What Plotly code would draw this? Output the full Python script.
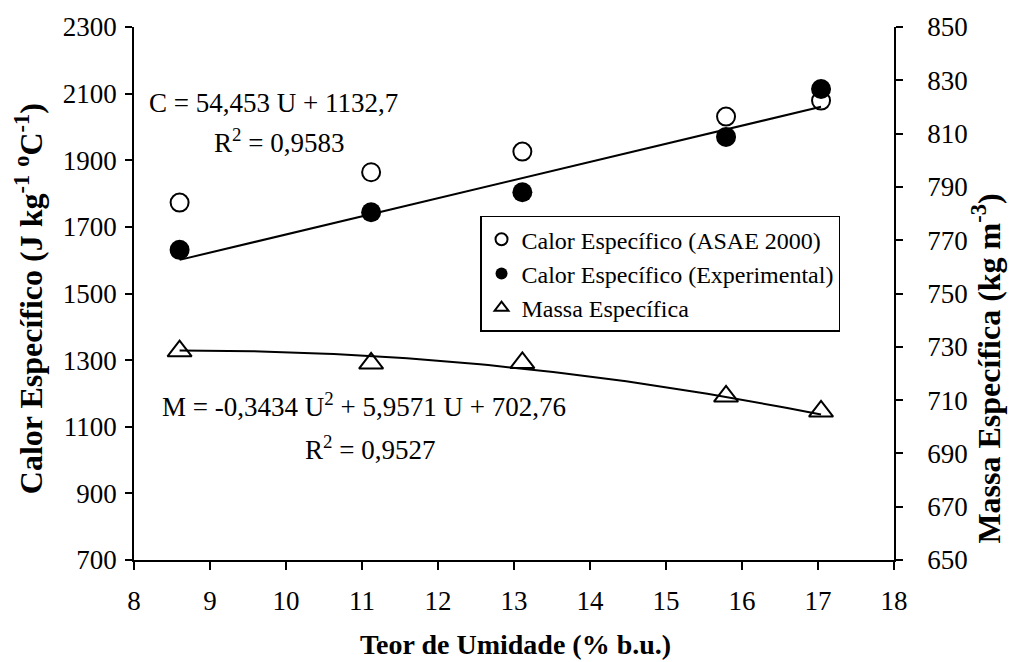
import numpy as np
import plotly.graph_objects as go

# Moisture content (% w.b.)
umidade = [8.6, 11.12, 13.11, 15.79, 17.04]
# Specific heat (J kg-1 C-1)
calor_asae = [1773, 1864, 1926, 2031, 2079]
calor_exp = [1631, 1744, 1804, 1970, 2114]
# Bulk density (kg m-3)
massa = [728.4, 723.8, 724.0, 711.4, 705.8]

# Fitted equations shown on the chart
lin_a, lin_b = 54.453, 1132.7
quad_a, quad_b, quad_c = -0.3434, 5.9571, 702.76

left_ticks = [700, 900, 1100, 1300, 1500, 1700, 1900, 2100, 2300]
grid_vals = [900, 1100, 1300, 1500, 1700, 1900, 2100]
right_ticks = [650, 670, 690, 710, 730, 750, 770, 790, 810, 830, 850]
x_ticks = list(range(8, 19))

FONT = "Liberation Serif, Times New Roman, serif"

u_line = np.array([min(umidade), max(umidade)])
c_line = lin_a * u_line + lin_b
u_curve = np.linspace(min(umidade), max(umidade), 80)
m_curve = quad_a * u_curve ** 2 + quad_b * u_curve + quad_c

fig = go.Figure()
fig.add_trace(go.Scatter(x=u_line, y=c_line, mode="lines",
                         line=dict(color="black", width=2), showlegend=False))
fig.add_trace(go.Scatter(x=u_curve, y=m_curve, mode="lines", yaxis="y2",
                         line=dict(color="black", width=2), showlegend=False))
fig.add_trace(go.Scatter(x=umidade, y=calor_asae, mode="markers",
                         name="Calor Específico (ASAE 2000)",
                         marker=dict(symbol="circle-open", size=18, color="black",
                                     line=dict(width=2, color="black"))))
fig.add_trace(go.Scatter(x=umidade, y=calor_exp, mode="markers",
                         name="Calor Específico (Experimental)",
                         marker=dict(symbol="circle", size=20, color="black",
                                     line=dict(width=0))))
fig.add_trace(go.Scatter(x=umidade, y=massa, mode="markers", yaxis="y2",
                         name="Massa Específica",
                         marker=dict(symbol="triangle-up-open", size=21, color="black",
                                     line=dict(width=2, color="black"))))

tickfont = dict(family=FONT, size=27, color="black")

fig.update_layout(
    width=1009, height=662,
    margin=dict(l=134, r=115, t=22, b=102),
    paper_bgcolor="white", plot_bgcolor="white",
    font=dict(family=FONT, color="black"),
    xaxis=dict(range=[8, 18], tickvals=x_ticks, ticks="outside", ticklen=8,
               tickwidth=1.5, tickcolor="black", showline=True, linecolor="black",
               linewidth=1.5, showgrid=False, zeroline=False, tickfont=tickfont,
               ticklabelstandoff=8),
    yaxis=dict(range=[700, 2300], tickvals=left_ticks, ticks="outside", ticklen=7,
               tickwidth=1.5, tickcolor="black", showline=True, linecolor="black",
               linewidth=1.5, showgrid=False, zeroline=False, tickfont=tickfont,
               ticklabelstandoff=3),
    yaxis3=dict(range=[700, 2300], overlaying="y", tickvals=grid_vals,
                showticklabels=False, ticks="", showgrid=True, gridcolor="black",
                gridwidth=1, griddash="8px,5px", zeroline=False, showline=False),
    yaxis2=dict(range=[650, 850], overlaying="y", side="right", tickvals=right_ticks,
                ticks="outside", ticklen=7, tickwidth=1.5, tickcolor="black",
                showline=True, linecolor="black", linewidth=1.5, showgrid=False,
                zeroline=False, tickfont=tickfont, ticklabelstandoff=19),
    yaxis4=dict(range=[650, 850], overlaying="y", side="right", tickvals=right_ticks,
                ticks="inside", ticklen=7, tickwidth=1.5, tickcolor="black",
                showticklabels=False, showline=False, showgrid=False, zeroline=False),
    legend=dict(x=0.4553, y=0.646, xanchor="left", yanchor="top",
                bordercolor="black", borderwidth=1.5, bgcolor="white",
                font=dict(family=FONT, size=24, color="black"),
                itemsizing="constant", tracegroupgap=0),
)

annot_font = dict(family=FONT, size=27, color="black")
title_font = dict(family=FONT, size=28, color="black")
vtitle_font = dict(family=FONT, size=32, color="black")

fig.add_annotation(xref="paper", yref="paper", x=0.0171, y=0.8580, xanchor="left",
                   yanchor="middle", showarrow=False, font=annot_font,
                   text="C = 54,453 U + 1132,7")
fig.add_annotation(xref="paper", yref="paper", x=0.1026, y=0.7860, xanchor="left",
                   yanchor="middle", showarrow=False, font=annot_font,
                   text="R<sup>2</sup> = 0,9583")
fig.add_annotation(xref="paper", yref="paper", x=0.0342, y=0.2900, xanchor="left",
                   yanchor="middle", showarrow=False, font=annot_font,
                   text="M = -0,3434 U<sup>2</sup> + 5,9571 U + 702,76")
fig.add_annotation(xref="paper", yref="paper", x=0.2224, y=0.2110, xanchor="left",
                   yanchor="middle", showarrow=False, font=annot_font,
                   text="R<sup>2</sup> = 0,9527")

# Axis titles
fig.add_annotation(xref="paper", yref="paper", x=(515 - 134) / 760, y=(560 - 645) / 537.5,
                   xanchor="center", yanchor="middle", showarrow=False, font=title_font,
                   text="<b>Teor de Umidade (% b.u.)</b>")
fig.add_annotation(xref="paper", yref="paper", x=(29 - 134) / 760, y=(560 - 297) / 537.5,
                   xanchor="center", yanchor="middle", showarrow=False, font=vtitle_font,
                   textangle=-90,
                   text="<b>Calor Específico (J kg<sup>-1</sup> <sup>o</sup>C<sup>-1</sup>)</b>")
fig.add_annotation(xref="paper", yref="paper", x=(986 - 134) / 760, y=(560 - 367) / 537.5,
                   xanchor="center", yanchor="middle", showarrow=False, font=vtitle_font,
                   textangle=-90,
                   text="<b>Massa Específica (kg m<sup>-3</sup>)</b>")

fig.write_html("out.html")
